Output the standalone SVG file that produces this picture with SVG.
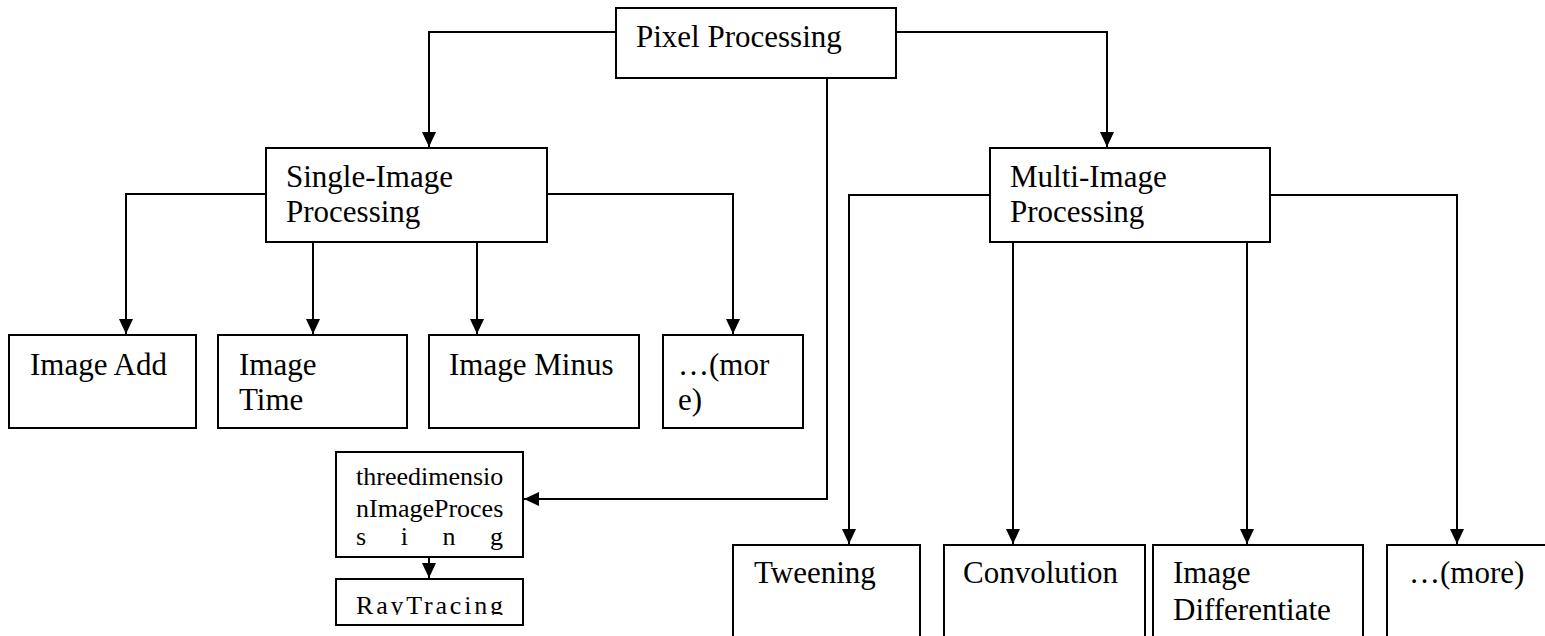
<svg xmlns="http://www.w3.org/2000/svg" width="1545" height="636" viewBox="0 0 1545 636">
<style>
.box{fill:#fff;stroke:#000;stroke-width:2}
.t{font-family:"Liberation Serif","Times New Roman",serif;font-size:31px;fill:#000}
.s{font-family:"Liberation Serif","Times New Roman",serif;font-size:26px;fill:#000}
.c{fill:none;stroke:#000;stroke-width:2}
</style>
<defs>
<marker id="arr" viewBox="0 0 15 14" markerWidth="15" markerHeight="14" refX="15" refY="7" orient="auto" markerUnits="userSpaceOnUse">
<path d="M0,0 L15,7 L0,14 Z" fill="#000"/>
</marker>
<clipPath id="rayclip"><rect x="336" y="579" width="187" height="36"/></clipPath>
</defs>
<rect width="1545" height="636" fill="#fff"/>
<g id="connectors">
<path class="c" d="M616,32 H429 V147" marker-end="url(#arr)"/>
<path class="c" d="M896,32 H1107 V147" marker-end="url(#arr)"/>
<path class="c" d="M827,78 V499 H524" marker-end="url(#arr)"/>
<path class="c" d="M266,194 H126 V334" marker-end="url(#arr)"/>
<path class="c" d="M547,194 H733 V334" marker-end="url(#arr)"/>
<path class="c" d="M313,242 V334" marker-end="url(#arr)"/>
<path class="c" d="M477,242 V334" marker-end="url(#arr)"/>
<path class="c" d="M990,195 H849 V544" marker-end="url(#arr)"/>
<path class="c" d="M1270,195 H1457 V544" marker-end="url(#arr)"/>
<path class="c" d="M1013,242 V544" marker-end="url(#arr)"/>
<path class="c" d="M1247,242 V544" marker-end="url(#arr)"/>
<path class="c" d="M429,557 V578" marker-end="url(#arr)"/>
</g>
<g id="pixel"><rect class="box" x="616" y="8" width="280" height="70"/><text class="t" x="636" y="47">Pixel Processing</text></g>
<g id="single"><rect class="box" x="266" y="148" width="281" height="94"/><text class="t" x="286" y="187">Single-Image</text><text class="t" x="286" y="222">Processing</text></g>
<g id="multi"><rect class="box" x="990" y="148" width="280" height="94"/><text class="t" x="1010" y="187">Multi-Image</text><text class="t" x="1010" y="222">Processing</text></g>
<g id="imgadd"><rect class="box" x="9" y="335" width="187" height="93"/><text class="t" x="30" y="375">Image Add</text></g>
<g id="imgtime"><rect class="box" x="218" y="335" width="189" height="93"/><text class="t" x="239" y="375">Image</text><text class="t" x="239" y="410">Time</text></g>
<g id="imgminus"><rect class="box" x="429" y="335" width="210" height="93"/><text class="t" x="449" y="375">Image Minus</text></g>
<g id="more1"><rect class="box" x="663" y="335" width="140" height="93"/><text class="t" x="678" y="375">…(mor</text><text class="t" x="678" y="410">e)</text></g>
<g id="threed"><rect class="box" x="336" y="452" width="187" height="105"/><text class="s" x="356" y="485">threedimensio</text><text class="s" x="356" y="517">nImageProces</text><text class="s" x="356" y="545" textLength="147" lengthAdjust="spacing">sing</text></g>
<g id="raytracing"><rect class="box" x="336" y="579" width="187" height="46"/><text class="s" x="356" y="614" textLength="147" lengthAdjust="spacing" clip-path="url(#rayclip)">RayTracing</text></g>
<g id="tweening"><rect class="box" x="733" y="545" width="187" height="100"/><text class="t" x="754" y="583">Tweening</text></g>
<g id="convolution"><rect class="box" x="944" y="545" width="201" height="100"/><text class="t" x="963" y="583">Convolution</text></g>
<g id="imgdiff"><rect class="box" x="1153" y="545" width="210" height="100"/><text class="t" x="1173" y="583">Image</text><text class="t" x="1173" y="620">Differentiate</text></g>
<g id="more2"><rect class="box" x="1387" y="545" width="170" height="100"/><text class="t" x="1409" y="583">…(more)</text></g>
</svg>
